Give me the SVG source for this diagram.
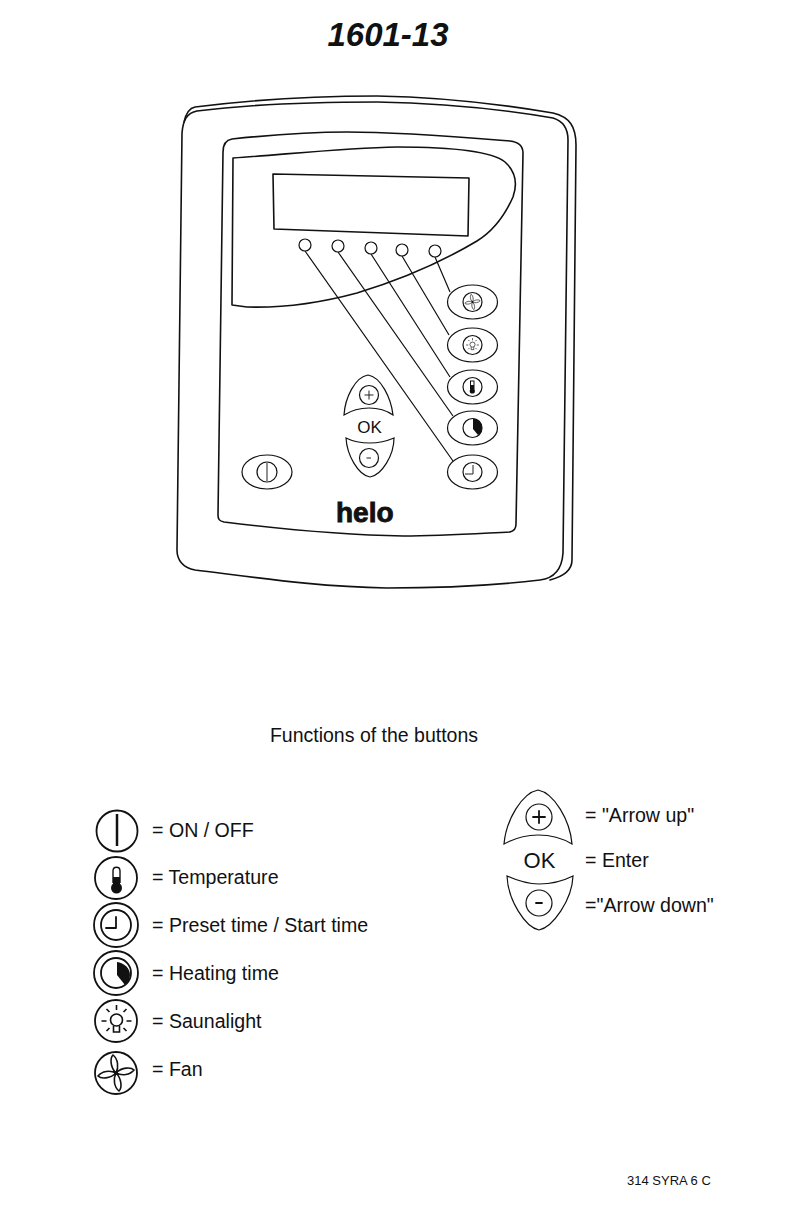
<svg xmlns="http://www.w3.org/2000/svg" width="808" height="1206" viewBox="0 0 808 1206">
<style>
text{font-family:"Liberation Sans",Arial,sans-serif;fill:#111}
.l{fill:none;stroke:#111;stroke-width:1.6;stroke-linejoin:round;stroke-linecap:round}
.t{fill:none;stroke:#222;stroke-width:1}
.i{fill:none;stroke:#111;stroke-width:1.8;stroke-linecap:round;stroke-linejoin:round}
.b{fill:#fff;stroke:#111;stroke-width:1.2}
.f{fill:#111;stroke:none}
.lab{font-size:19.6px}
</style>
<defs>
<symbol id="fan" overflow="visible" viewBox="-20 -20 40 40" width="40" height="40"><path d="M0,0C-6,-6 -6,-15 -3,-18C2,-14 3,-6 0,0C6,-6 15,-6 18,-3C14,2 6,3 0,0C6,6 6,15 3,18C-2,14 -3,6 0,0C-6,6 -15,6 -18,3C-14,-2 -6,-3 0,0Z" fill="none" stroke="#111" stroke-width="1.6"/><circle r="2" fill="#111"/></symbol>
<symbol id="bulb" overflow="visible" viewBox="-20 -20 40 40" width="40" height="40"><circle cy="-1" r="6" fill="none" stroke="#111" stroke-width="1.6"/><path d="M-3,5V11H3V5M0,-16V-11M-10,-12L-7,-9M10,-12L7,-9M-15,0H-10M15,0H10M-10,10L-7,7M10,10L7,7" fill="none" stroke="#111" stroke-width="1.6"/></symbol>
</defs>
<text id="title" x="388" y="46" font-size="33" font-weight="bold" font-style="italic" text-anchor="middle">1601-13</text>
<g id="device">
<path class="l" d="M184,122C186,113 190,108 195,107C250,100 320,96 377,96C440,97 500,104 553,113C570,117 576,127 576,145L572,560C572,570 565,576 550,580"/>
<path class="l" d="M182,133C183,120 187,113 197,111C260,103 320,102 377,102C440,103 500,109 553,118C563,121 568,128 568,140L563,553C562,568 556,578 540,580C490,586 440,588 387,588C320,587 260,578 195,570C183,568 177,560 177,550Z"/>
<path class="l" d="M223,152C223,144 226,140 232,139C270,135 310,132 347,132C400,132 460,137 510,141C518,142 523,146 523,153L516,524C516,529 514,531 510,532C470,534 440,536 403,536C340,535 280,529 224,522C219,521 218,519 218,515Z"/>
<path class="l" d="M233,158C290,154 345,148 397,147C445,147 490,150 505,162C516,172 518,183 513,197C505,215 495,230 477,241C440,263 400,280 357,293C320,303 280,308 247,307L232,305Z"/>
<path class="l" d="M273,174L469,178L468,236L274,229Z"/>
</g>
<g id="connectors" class="t">
<path d="M305,251L453,461M338,252L453,416M371,254L450,377M402,256L449,335M435,257L450,292" stroke-width="1.2" stroke="#111"/>
</g>
<g id="leds">
<circle class="b" cx="305" cy="245" r="6"/><circle class="b" cx="338" cy="246" r="6"/><circle class="b" cx="371" cy="248" r="6"/><circle class="b" cx="402" cy="250" r="6"/><circle class="b" cx="435" cy="251" r="6"/>
</g>
<g id="btn-fan"><ellipse class="b" cx="472.500" cy="302" rx="25" ry="17"/><circle class="b" cx="472.500" cy="302" r="9.500"/><use href="#fan" x="464" y="293.500" width="17" height="17"/></g>
<g id="btn-light"><ellipse class="b" cx="472.500" cy="345" rx="25" ry="17"/><circle class="b" cx="472.500" cy="345" r="9.500"/><use href="#bulb" x="464" y="336.500" width="17" height="17"/></g>
<g id="btn-temp"><ellipse class="b" cx="472.500" cy="387" rx="25" ry="17"/><circle class="b" cx="472.500" cy="387" r="9.500"/><rect x="470.500" y="381" width="3.500" height="8" fill="none" stroke="#111"/><rect class="f" x="470.500" y="385" width="3.500" height="6"/><circle class="f" cx="472.300" cy="391" r="2.600"/></g>
<g id="btn-heat"><ellipse class="b" cx="472.500" cy="428" rx="25" ry="17"/><circle class="b" cx="472.500" cy="428" r="9.500"/><path class="f" d="M473,429V418.500C478,418.500 482,423 482,428C482,431 480,434 478,435Z"/></g>
<g id="btn-clock"><ellipse class="b" cx="472.500" cy="472" rx="25" ry="17"/><circle class="b" cx="472.500" cy="472" r="9.500"/><path class="t" d="M473,465V474H465"/></g>
<g id="btn-power"><ellipse class="b" cx="267" cy="472" rx="25" ry="17"/><circle class="b" cx="267" cy="472" r="10"/><path class="t" d="M267,463V481"/></g>
<g id="btn-up"><path class="b" d="M368,375C355,377 345,398 344,415C352,410 360,408 369,408C378,408 386,410 393,415C391,398 381,377 368,375Z"/><circle class="b" cx="369" cy="395" r="9.500"/><path class="t" d="M364.500,395H373.500M369,390.500V399.500"/></g>
<text id="btn-ok" x="369.500" y="433" font-size="17" text-anchor="middle">OK</text>
<g id="btn-down"><path class="b" d="M346,438C354,442 362,443 370,443C379,443 387,441 394,438C394,455 382,475 370,477C358,475 347,455 346,438Z"/><circle class="b" cx="369" cy="458" r="9.500"/><path class="t" d="M366.500,458H371"/></g>
<text id="logo" x="336" y="522" font-size="28" font-weight="bold" stroke="#111" stroke-width=".9">helo</text>
<text id="heading" x="374" y="742" font-size="19.500" text-anchor="middle">Functions of the buttons</text>
<g id="key-onoff"><circle class="i" cx="117" cy="831" r="20.500"/><path d="M117,814V846" stroke="#111" stroke-width="2.500"/><text class="lab" x="152" y="837">= ON / OFF</text></g>
<g id="key-temp"><circle class="i" cx="116" cy="878" r="21"/><path d="M113,883V871C113,866 120,866 120,871V883" fill="none" stroke="#111" stroke-width="1.400"/><rect class="f" x="113" y="877" width="7" height="10"/><circle class="f" cx="116.500" cy="888" r="5.500"/><text class="lab" x="152" y="884">= Temperature</text></g>
<g id="key-preset"><circle class="i" cx="116" cy="925" r="22"/><circle class="i" cx="116" cy="925" r="15"/><path class="i" d="M116,917V928H106"/><text class="lab" x="152" y="932">= Preset time / Start time</text></g>
<g id="key-heat"><circle class="i" cx="116" cy="973" r="22"/><circle class="i" cx="116" cy="973" r="15"/><path class="f" d="M117,975V962C124,963 130,968 130,975C130,979 128,982 125,985Z"/><text class="lab" x="152" y="980">= Heating time</text></g>
<g id="key-light"><circle class="i" cx="116" cy="1021" r="21"/><use href="#bulb" x="96.500" y="1001" width="40" height="40"/><text class="lab" x="152" y="1028">= Saunalight</text></g>
<g id="key-fan"><circle class="i" cx="116" cy="1073" r="21"/><use href="#fan" x="96" y="1053" width="40" height="40"/><text class="lab" x="152" y="1076">= Fan</text></g>
<g id="key-up"><path class="b" d="M538,790C522,793 506,820 504,844C515,838 526,835 538,835C550,835 562,838 572,844C570,820 554,793 538,790Z"/><circle class="b" cx="539" cy="817" r="13"/><path class="i" d="M533,817H545M539,811V823"/><text class="lab" x="585" y="822">= "Arrow up"</text></g>
<g id="key-ok"><text x="539.500" y="868" font-size="22" text-anchor="middle">OK</text><text class="lab" x="585" y="867">= Enter</text></g>
<g id="key-down"><path class="b" d="M507,876C518,881 528,884 539,884C551,884 563,881 573,876C572,900 553,927 539,930C525,927 508,900 507,876Z"/><circle class="b" cx="539" cy="903" r="13"/><path class="i" d="M536,903H542"/><text class="lab" x="585" y="912">="Arrow down"</text></g>
<text id="code" x="627" y="1185" font-size="13">314 SYRA 6 C</text>
</svg>
